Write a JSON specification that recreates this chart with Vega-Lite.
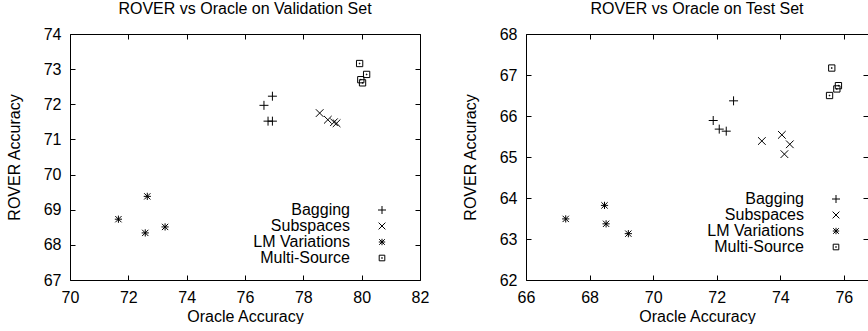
{
  "$schema": "https://vega.github.io/schema/vega-lite/v6.json",
  "padding": {"left": 6, "top": 1, "right": 0, "bottom": 0},
  "bounds": "flush",
  "spacing": 106,
  "datasets": {
    "validation": [
      {"method": "Bagging", "oracle": 76.94, "rover": 72.23},
      {"method": "Bagging", "oracle": 76.65, "rover": 71.97},
      {"method": "Bagging", "oracle": 76.79, "rover": 71.52},
      {"method": "Bagging", "oracle": 76.94, "rover": 71.52},
      {"method": "Subspaces", "oracle": 78.56, "rover": 71.75},
      {"method": "Subspaces", "oracle": 78.84, "rover": 71.56},
      {"method": "Subspaces", "oracle": 79.05, "rover": 71.49},
      {"method": "Subspaces", "oracle": 79.14, "rover": 71.46},
      {"method": "LM Variations", "oracle": 72.65, "rover": 69.38},
      {"method": "LM Variations", "oracle": 71.66, "rover": 68.73},
      {"method": "LM Variations", "oracle": 72.58, "rover": 68.34},
      {"method": "LM Variations", "oracle": 73.26, "rover": 68.51},
      {"method": "Multi-Source", "oracle": 79.93, "rover": 73.16},
      {"method": "Multi-Source", "oracle": 80.17, "rover": 72.85},
      {"method": "Multi-Source", "oracle": 79.97, "rover": 72.70},
      {"method": "Multi-Source", "oracle": 80.03, "rover": 72.61}
    ],
    "test": [
      {"method": "Bagging", "oracle": 72.53, "rover": 66.37},
      {"method": "Bagging", "oracle": 71.89, "rover": 65.89},
      {"method": "Bagging", "oracle": 72.08, "rover": 65.68},
      {"method": "Bagging", "oracle": 72.30, "rover": 65.63},
      {"method": "Subspaces", "oracle": 73.42, "rover": 65.39},
      {"method": "Subspaces", "oracle": 74.05, "rover": 65.54},
      {"method": "Subspaces", "oracle": 74.30, "rover": 65.31},
      {"method": "Subspaces", "oracle": 74.13, "rover": 65.07},
      {"method": "LM Variations", "oracle": 67.25, "rover": 63.49},
      {"method": "LM Variations", "oracle": 68.47, "rover": 63.82},
      {"method": "LM Variations", "oracle": 68.52, "rover": 63.37},
      {"method": "LM Variations", "oracle": 69.22, "rover": 63.13},
      {"method": "Multi-Source", "oracle": 75.62, "rover": 67.17},
      {"method": "Multi-Source", "oracle": 75.55, "rover": 66.50},
      {"method": "Multi-Source", "oracle": 75.78, "rover": 66.66},
      {"method": "Multi-Source", "oracle": 75.83, "rover": 66.74}
    ]
  },
  "hconcat": [
    {
      "width": 350,
      "height": 246,
      "title": "ROVER vs Oracle on Validation Set",
      "data": {"name": "validation"},
      "layer": [
        {
          "mark": {"type": "point", "filled": false, "color": "#000", "strokeWidth": 1, "size": 81, "opacity": 1},
          "encoding": {
            "x": {"field": "oracle", "type": "quantitative", "scale": {"domain": [70, 82], "nice": false, "zero": false},
                  "axis": {"values": [70, 72, 74, 76, 78, 80, 82], "title": "Oracle Accuracy"}},
            "y": {"field": "rover", "type": "quantitative", "scale": {"domain": [67, 74], "nice": false, "zero": false},
                  "axis": {"values": [67, 68, 69, 70, 71, 72, 73, 74], "title": "ROVER Accuracy"}},
            "shape": {"field": "method", "type": "nominal",
                      "scale": {"domain": ["Bagging", "Subspaces", "LM Variations", "Multi-Source"],
                                "range": ["M-1,0L1,0M0,-1L0,1",
                                          "M-0.85,-0.85L0.85,0.85M-0.85,0.85L0.85,-0.85",
                                          "M-0.8,0L0.8,0M0,-0.8L0,0.8M-0.7,-0.7L0.7,0.7M-0.7,0.7L0.7,-0.7",
                                          "M-0.7,-0.7L0.7,-0.7L0.7,0.7L-0.7,0.7ZM-0.08,-0.08L0.08,-0.08L0.08,0.08L-0.08,0.08Z"]},
                      "legend": {"legendX": 304, "legendY": 168}}
          }
        },
        {
          "mark": {"type": "point", "opacity": 0},
          "encoding": {
            "x": {"field": "oracle", "type": "quantitative", "scale": {"domain": [70, 82], "nice": false, "zero": false},
                  "axis": {"orient": "top", "labels": false, "title": null, "values": [70, 72, 74, 76, 78, 80, 82]}},
            "y": {"field": "rover", "type": "quantitative", "scale": {"domain": [67, 74], "nice": false, "zero": false},
                  "axis": {"orient": "right", "labels": false, "title": null, "values": [67, 68, 69, 70, 71, 72, 73, 74]}}
          }
        }
      ],
      "resolve": {"axis": {"x": "independent", "y": "independent"}}
    },
    {
      "width": 342,
      "height": 246,
      "title": "ROVER vs Oracle on Test Set",
      "data": {"name": "test"},
      "layer": [
        {
          "mark": {"type": "point", "filled": false, "color": "#000", "strokeWidth": 1, "size": 81, "opacity": 1},
          "encoding": {
            "x": {"field": "oracle", "type": "quantitative", "scale": {"domain": [66, 76.76], "nice": false, "zero": false},
                  "axis": {"values": [66, 68, 70, 72, 74, 76], "title": "Oracle Accuracy"}},
            "y": {"field": "rover", "type": "quantitative", "scale": {"domain": [62, 68], "nice": false, "zero": false},
                  "axis": {"values": [62, 63, 64, 65, 66, 67, 68], "title": "ROVER Accuracy"}},
            "shape": {"field": "method", "type": "nominal",
                      "scale": {"domain": ["Bagging", "Subspaces", "LM Variations", "Multi-Source"],
                                "range": ["M-1,0L1,0M0,-1L0,1",
                                          "M-0.85,-0.85L0.85,0.85M-0.85,0.85L0.85,-0.85",
                                          "M-0.8,0L0.8,0M0,-0.8L0,0.8M-0.7,-0.7L0.7,0.7M-0.7,0.7L0.7,-0.7",
                                          "M-0.7,-0.7L0.7,-0.7L0.7,0.7L-0.7,0.7ZM-0.08,-0.08L0.08,-0.08L0.08,0.08L-0.08,0.08Z"]},
                      "legend": {"legendX": 302, "legendY": 157}}
          }
        },
        {
          "mark": {"type": "point", "opacity": 0},
          "encoding": {
            "x": {"field": "oracle", "type": "quantitative", "scale": {"domain": [66, 76.76], "nice": false, "zero": false},
                  "axis": {"orient": "top", "labels": false, "title": null, "values": [66, 68, 70, 72, 74, 76]}},
            "y": {"field": "rover", "type": "quantitative", "scale": {"domain": [62, 68], "nice": false, "zero": false},
                  "axis": {"orient": "right", "labels": false, "title": null, "values": [62, 63, 64, 65, 66, 67, 68]}}
          }
        }
      ],
      "resolve": {"axis": {"x": "independent", "y": "independent"}}
    }
  ],
  "resolve": {"scale": {"shape": "independent"}, "legend": {"shape": "independent"}},
  "config": {
    "font": "Liberation Sans",
    "view": {"stroke": null},
    "axis": {
      "domainColor": "#000", "domainWidth": 1, "tickColor": "#000", "tickSize": -5, "tickWidth": 1,
      "grid": false, "labelFlush": false, "labelOverlap": false,
      "labelFont": "Liberation Sans", "labelFontSize": 16, "labelColor": "#000", "labelPadding": 14,
      "titleFont": "Liberation Sans", "titleFontSize": 16, "titleFontWeight": "normal", "titleColor": "#000"
    },
    "axisX": {"labelPadding": 14, "titlePadding": 3},
    "axisY": {"titlePadding": 21},
    "title": {"font": "Liberation Sans", "fontSize": 16, "fontWeight": "normal", "color": "#000", "offset": 9},
    "legend": {
      "orient": "none", "title": null, "padding": 0, "rowPadding": 0,
      "labelFont": "Liberation Sans", "labelFontSize": 16, "labelColor": "#000", "labelAlign": "right",
      "labelOffset": -40, "labelLimit": 300, "symbolSize": 64, "symbolStrokeWidth": 1,
      "symbolStrokeColor": "#000", "symbolFillColor": "transparent"
    }
  }
}
